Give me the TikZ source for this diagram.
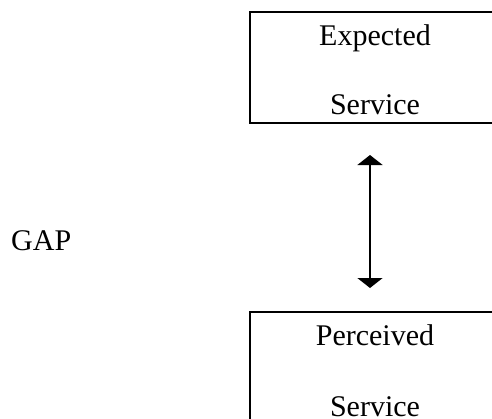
\documentclass[tikz,border=0pt]{standalone}
\usepackage{fontspec}
\setmainfont{Liberation Serif}
\usetikzlibrary{arrows.meta}
\begin{document}
\begin{tikzpicture}[x=1pt,y=-1pt,
  boxnode/.style={draw=black,line width=1.5pt,rectangle,inner sep=0pt},
  lbl/.style={font=\fontsize{30}{36}\selectfont,anchor=base,inner sep=0pt},
  gaparrow/.style={line width=1.8pt,{Triangle[width=25pt,length=10pt]}-{Triangle[width=25pt,length=10pt]}}]
\useasboundingbox (0,0) rectangle (492,418);
\clip (0,0) rectangle (492,418);
\node[boxnode,minimum width=250pt,minimum height=111pt] (exp) at (375,67.5) {};
\node[lbl] (exp1) at (375,45) {Expected};
\node[lbl] (exp2) at (375,114) {Service};
\node[boxnode,minimum width=250pt,minimum height=120pt] (per) at (375,372) {};
\node[lbl] (per1) at (375,345) {Perceived};
\node[lbl] (per2) at (375,416) {Service};
\node[lbl,anchor=base west] (gap) at (11,250) {GAP};
\coordinate (atop) at (370,155);
\coordinate (abot) at (370,288);
\draw[gaparrow] (atop) -- (abot);
\end{tikzpicture}
\end{document}
